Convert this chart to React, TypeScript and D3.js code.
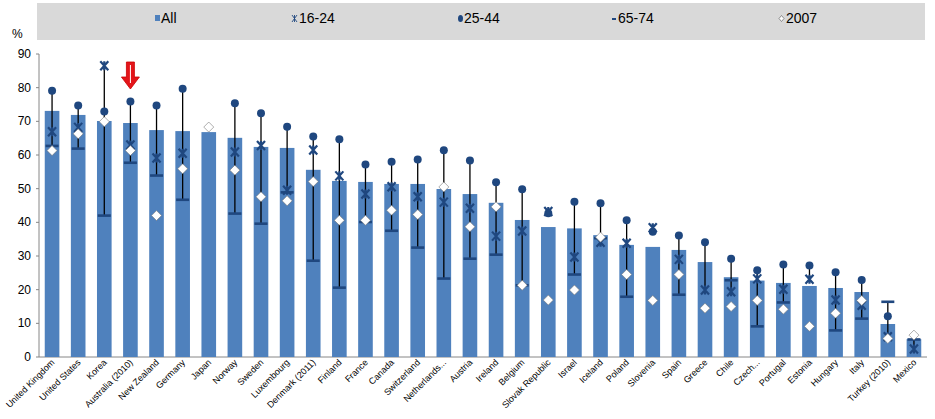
import React from "react";
import * as d3 from "d3";

const countries = ["United Kingdom","United States","Korea","Australia (2010)","New Zealand","Germany","Japan","Norway","Sweden","Luxembourg","Denmark (2011)","Finland","France","Canada","Switzerland","Netherlands...","Austria","Ireland","Belgium","Slovak Republic","Israel","Iceland","Poland","Slovenia","Spain","Greece","Chile","Czech...","Portugal","Estonia","Hungary","Italy","Turkey (2010)","Mexico"];
const allVals = [73.1,71.9,70.1,69.5,67.4,67.1,66.8,65.1,62.4,62.1,55.6,52.3,52.0,51.4,51.4,49.9,48.4,45.8,40.7,38.6,38.2,36.2,33.3,32.7,31.8,28.2,23.7,22.7,22.0,21.1,20.5,19.3,9.8,5.3];
const age1624: (number|null)[] = [66.9,68.2,86.5,63.0,59.1,60.5,null,60.9,62.8,49.5,61.5,53.8,48.4,50.6,47.6,46.0,44.2,35.9,37.4,43.2,29.7,34.1,33.8,38.4,29.0,19.9,19.4,23.2,20.1,23.1,16.9,15.4,6.0,2.4];
const age2544: (number|null)[] = [79.1,74.7,72.9,75.9,74.7,79.7,null,75.4,72.4,68.4,65.5,64.7,57.2,58.0,58.7,61.4,58.4,51.9,49.8,42.7,46.1,45.7,40.6,37.2,36.1,34.1,29.2,25.8,27.5,27.2,25.2,22.9,12.1,null];
const age6574: (number|null)[] = [62.7,61.9,42.0,57.7,53.9,46.7,null,42.6,39.6,48.9,28.6,20.6,40.1,37.5,32.5,23.3,29.2,30.4,21.3,null,24.5,35.3,17.9,null,18.5,null,22.8,9.1,16.2,null,7.9,11.4,16.4,5.2];
const y2007: (number|null)[] = [61.3,66.3,69.9,61.3,42.0,55.9,68.3,55.5,47.6,46.4,52.1,40.6,40.6,43.6,42.3,50.5,38.7,44.6,21.3,16.9,19.9,35.6,24.5,16.8,24.5,14.5,15.0,16.8,14.2,9.1,13.0,16.8,5.5,6.5];
const yTicks = [0,10,20,30,40,50,60,70,80,90];
const legendLabels = ["All","16-24","25-44","65-74","2007"];

const BAR = "#4F81BD";
const NAVY = "#1F477F";
const FONT = "Liberation Sans, Arial, sans-serif";
const NARROW = "'Liberation Sans Narrow', 'Arial Narrow', 'Liberation Sans', sans-serif";

export default function App() {
  const W = 935, H = 419;
  const x = d3.scaleBand<string>().domain(countries).range([39, 927]).paddingInner(0.44).paddingOuter(0.22);
  const y = d3.scaleLinear().domain([0, 90]).range([357, 54]);
  const bw = x.bandwidth();
  const cx = (c: string) => (x(c) as number) + bw / 2;

  const legendX = [155, 292, 458, 612, 779];

  return (
    <svg width={W} height={H} style={{ position: "absolute", left: 0, top: 0, background: "#fff" }} fontFamily={FONT}>
      <rect x={37} y={3} width={888} height={37} fill="#D9D9D9" />
      {/* legend */}
      <g fontSize={14} fill="#000" fontFamily={NARROW}>
        <rect x={legendX[0]} y={15} width={5} height={6} fill={BAR} />
        <text x={legendX[0] + 6} y={23}>{legendLabels[0]}</text>
        <path d={`M${legendX[1]},15 l5,7 M${legendX[1] + 5},15 l-5,7 M${legendX[1] + 2.5},15 v7`} stroke={NAVY} strokeWidth={0.9} />
        <text x={legendX[1] + 7} y={23}>{legendLabels[1]}</text>
        <ellipse cx={legendX[2] + 2.5} cy={18.5} rx={2.5} ry={3.5} fill={NAVY} />
        <text x={legendX[2] + 6} y={23}>{legendLabels[2]}</text>
        <rect x={legendX[3]} y={18} width={4} height={2} fill={NAVY} />
        <text x={legendX[3] + 6} y={23}>{legendLabels[3]}</text>
        <path d={`M${legendX[4] + 2.5},15.5 l2.5,3 l-2.5,3 l-2.5,-3 z`} fill="#fff" stroke="#666" strokeWidth={0.7} />
        <text x={legendX[4] + 7} y={23}>{legendLabels[4]}</text>
      </g>
      <text x={12} y={38} fontSize={12} fill="#000">%</text>
      {/* axes */}
      <line x1={39} x2={39} y1={y(90)} y2={y(0)} stroke="#868686" />
      <line x1={39} x2={927} y1={y(0)} y2={y(0)} stroke="#868686" />
      {yTicks.map((t) => (
        <g key={t}>
          <line x1={36} x2={39} y1={y(t)} y2={y(t)} stroke="#868686" />
          <text x={31} y={y(t) + 4} fontSize={12} textAnchor="end" fill="#000">{t}</text>
        </g>
      ))}
      {/* bars */}
      {countries.map((c, i) => (
        <rect key={c} x={x(c)} y={y(allVals[i])} width={bw} height={y(0) - y(allVals[i])} fill={BAR} />
      ))}
      {/* high-low lines */}
      {countries.map((c, i) => {
        const vals = [age1624[i], age2544[i], age6574[i]].filter((v) => v != null) as number[];
        if (vals.length < 2) return null;
        const hi = d3.max(vals) as number, lo = d3.min(vals) as number;
        return <line key={c} x1={cx(c)} x2={cx(c)} y1={y(hi)} y2={y(lo)} stroke="#000" strokeWidth={1.3} />;
      })}
      {/* 65-74 dashes */}
      {countries.map((c, i) => age6574[i] == null ? null : (
        <rect key={c} x={cx(c) - 6.5} y={y(age6574[i] as number) - 1.3} width={13} height={2.6} fill={NAVY} />
      ))}
      {/* 25-44 circles */}
      {countries.map((c, i) => age2544[i] == null ? null : (
        <circle key={c} cx={cx(c)} cy={y(age2544[i] as number)} r={4} fill={NAVY} />
      ))}
      {/* 16-24 star-X */}
      {countries.map((c, i) => {
        const v = age1624[i];
        if (v == null) return null;
        const px = cx(c), py = y(v);
        return <path key={c} d={`M${px - 4},${py - 4.5}L${px + 4},${py + 4.5}M${px + 4},${py - 4.5}L${px - 4},${py + 4.5}M${px},${py - 4.5}V${py + 4.5}`} stroke={NAVY} strokeWidth={2.2} fill="none" />;
      })}
      {/* 2007 diamonds */}
      {countries.map((c, i) => {
        const v = y2007[i];
        if (v == null) return null;
        const px = cx(c), py = y(v);
        return <path key={c} d={`M${px},${py - 5}L${px + 5},${py}L${px},${py + 5}L${px - 5},${py}Z`} fill="#fff" stroke="#777" strokeWidth={0.6} />;
      })}
      {/* x labels */}
      {countries.map((c) => (
        <text key={c} transform={`translate(${cx(c) + 3},${363}) rotate(-45)`} textAnchor="end" fontSize={9} fill="#000">{c}</text>
      ))}
      {/* red arrow */}
      <g transform={`translate(${cx(countries[3])},0)`}>
        <path d="M-4,62 h8 v15 h5 l-9,12 l-9,-12 h5 z" fill="#E3151A" stroke="#C00" strokeWidth={0.8} />
        <line x1={0} x2={0} y1={65} y2={83} stroke="#fff" strokeWidth={1} />
      </g>
    </svg>
  );
}
